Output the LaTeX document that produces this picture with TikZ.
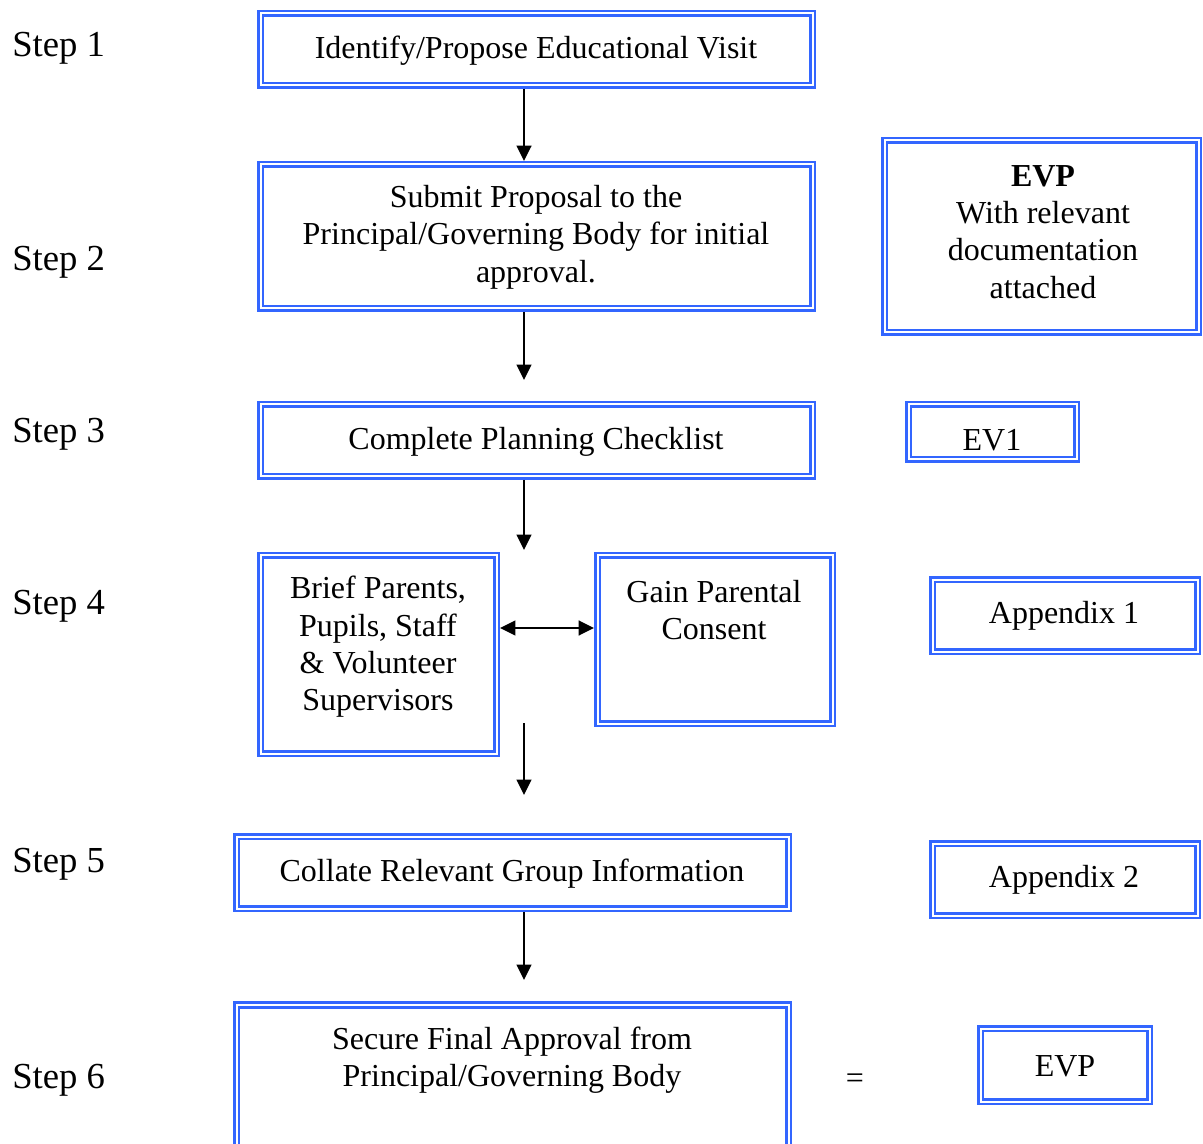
\documentclass[tikz,border=0pt]{standalone}
\usepackage{fontspec}
\setmainfont{Liberation Serif}
\usetikzlibrary{arrows.meta}
\definecolor{bblue}{RGB}{51,102,255}
\tikzset{
  dbox/.style={draw=bblue, double=white, double distance=1.5pt, line width=1.9pt,
               inner sep=0pt, outer sep=2.6pt},
  bx/.style n args={2}{minimum width=#1*0.75pt, minimum height=#2*0.75pt},
  txt/.style={inner sep=0pt, align=center, font=\fontsize{24}{28}\selectfont},
  steplbl/.style={inner sep=0pt, anchor=west, font=\fontsize{27.5}{32}\selectfont},
  arr/.style={-{Triangle[length=11.5pt,width=11pt]}, line width=1.7pt},
  darr/.style={{Triangle[length=11.5pt,width=11pt]}-{Triangle[length=11.5pt,width=11pt]}, line width=1.7pt},
}
\begin{document}
\begin{tikzpicture}[x=0.75pt,y=-0.75pt]
\clip (0,0) rectangle (1203,1144);

% step labels
\node[steplbl] (s1) at (12,48) {Step 1};
\node[steplbl] (s2) at (12,262) {Step 2};
\node[steplbl] (s3) at (12,434) {Step 3};
\node[steplbl] (s4) at (12,606) {Step 4};
\node[steplbl] (s5) at (12,864) {Step 5};
\node[steplbl] (s6) at (12,1080) {Step 6};

% main boxes
\node[dbox, bx={552}{72}]  (b1)  at (536.5,49.5) {};
\node[dbox, bx={552}{144}] (b2)  at (536.5,236.5) {};
\node[dbox, bx={552}{72}]  (b3)  at (536.5,440.5) {};
\node[dbox, bx={236}{198}] (b4a) at (378.5,654.5) {};
\node[dbox, bx={235}{168}] (b4b) at (715,639.5) {};
\node[dbox, bx={552}{72}]  (b5)  at (512.5,872.5) {};
\node[dbox, bx={552}{150}] (b6)  at (512.5,1080) {};

% side boxes
\node[dbox, bx={314}{192}] (evp)  at (1041.5,236.5) {};
\node[dbox, bx={168}{55}]  (ev1)  at (992.5,432) {};
\node[dbox, bx={265}{72}]  (app1) at (1065,615.5) {};
\node[dbox, bx={265}{72}]  (app2) at (1065,879.5) {};
\node[dbox, bx={169}{73}]  (evp2) at (1065,1065) {};

% texts
\node[txt] (t1) at (536,51) {Identify/Propose Educational Visit};
\node[txt] (t2) at (536,237) {Submit Proposal to the\\Principal/Governing Body for initial\\approval.};
\node[txt] (t3) at (536,442) {Complete Planning Checklist};
\node[txt] (t4a) at (378,647) {Brief Parents,\\Pupils, Staff\\\& Volunteer\\Supervisors};
\node[txt] (t4b) at (714,610) {Gain Parental\\Consent};
\node[txt] (t5) at (512,874) {Collate Relevant Group Information};
\node[txt] (t6) at (512,1060) {Secure Final Approval from\\Principal/Governing Body};
\node[txt] (tevp) at (1043,232) {\textbf{EVP}\\With relevant\\documentation\\attached};
\node[txt] (tev1) at (992,440) {EV1};
\node[txt] (tapp1) at (1064,616) {Appendix 1};
\node[txt] (tapp2) at (1064,880) {Appendix 2};
\node[txt] (teq) at (855,1081) {=};
\node[txt] (tevp2) at (1065,1066) {EVP};

% connectors
\coordinate (ax) at (524,0);
\coordinate (dy) at (0,628);
\coordinate (a2e) at (524,380);
\coordinate (a3e) at (524,550);
\coordinate (a4s) at (524,723);
\coordinate (a4e) at (524,795);
\coordinate (a5e) at (524,980);

\draw[arr] (b1.south -| ax) -- (b2.north -| ax);
\draw[arr] (b2.south -| ax) -- (a2e);
\draw[arr] (b3.south -| ax) -- (a3e);
\draw[arr] (a4s) -- (a4e);
\draw[arr] (b5.south -| ax) -- (a5e);
\draw[darr] (b4a.east |- dy) -- (b4b.west |- dy);
\end{tikzpicture}
\end{document}
